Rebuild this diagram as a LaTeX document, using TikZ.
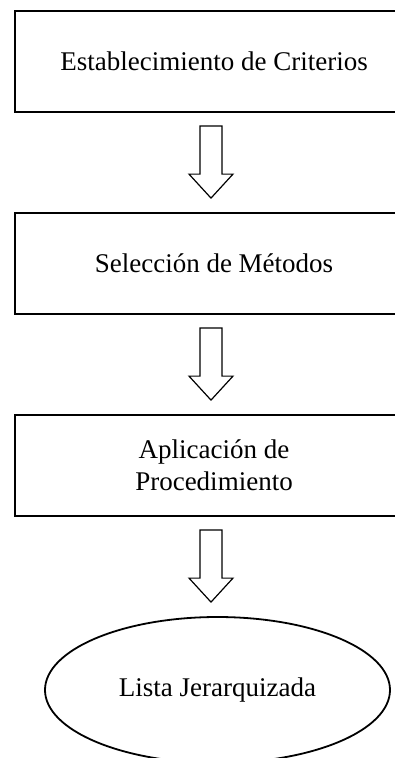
\documentclass[tikz,border=0pt]{standalone}
\usepackage{fontspec}
\setmainfont{Liberation Serif}
\usetikzlibrary{shapes.geometric,calc}

% block arrow from below one node to above the next
\newcommand{\flechabloque}[2]{%
	\draw [flecha] ($(#1.south)+(-14,13)$) -- ($(#1.south)+(8,13)$)
		-- ($(#1.south |- #2.north)+(8,-38)$) -- ($(#1.south |- #2.north)+(19,-38)$)
		-- ($(#1.south |- #2.north)+(-3,-14)$)
		-- ($(#1.south |- #2.north)+(-25,-38)$) -- ($(#1.south |- #2.north)+(-14,-38)$) -- cycle;}

\begin{document}
\begin{tikzpicture}[x=1pt,y=-1pt]
		\tikzstyle{every node}+=[inner sep=0pt, font=\fontsize{27}{32}\selectfont]
		\tikzstyle{paso}=[draw=black, line width=1.8pt, rectangle, minimum width=398pt, minimum height=101pt, align=center]
		\tikzstyle{flecha}=[draw=black, line width=1.2pt, fill=white]
		\useasboundingbox (0,0) rectangle (395,758);
		\node [paso] (criterios) at (214,61.5) {Establecimiento de Criterios};
		\node [paso] (metodos) at (214,263.5) {Selección de Métodos};
		\node [paso] (procedimiento) at (214,465.5) {Aplicación de\\Procedimiento};
		\node [draw=black, line width=1.8pt, ellipse, minimum width=345pt, minimum height=146pt] (lista) at (217.5,690) {Lista Jerarquizada};
		\flechabloque{criterios}{metodos}
		\flechabloque{metodos}{procedimiento}
		\flechabloque{procedimiento}{lista}
		\end{tikzpicture}
\end{document}
